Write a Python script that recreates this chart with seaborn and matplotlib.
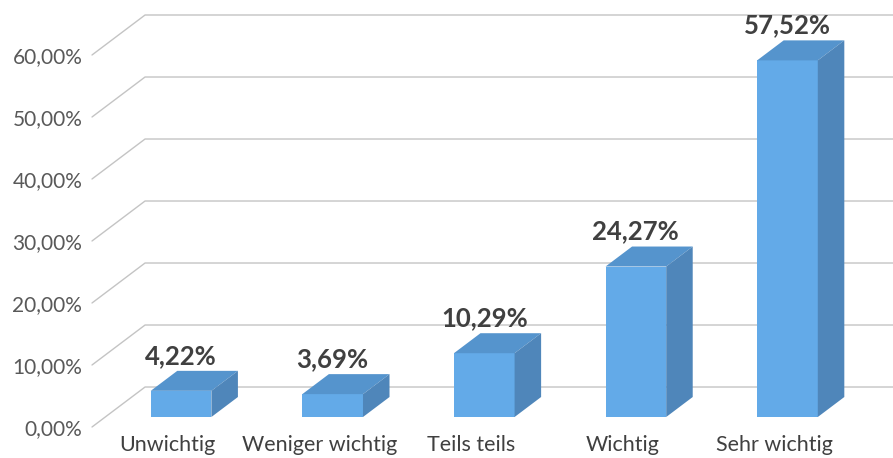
import matplotlib
matplotlib.use("Agg")
import matplotlib.pyplot as plt
from matplotlib.patches import Polygon
import pandas as pd
import seaborn as sns

# Chart data
categories = ["Unwichtig", "Weniger wichtig", "Teils teils", "Wichtig", "Sehr wichtig"]
values = [4.22, 3.69, 10.29, 24.27, 57.52]
y_ticks = [0, 10, 20, 30, 40, 50, 60]
y_tick_labels = ["0,00%", "10,00%", "20,00%", "30,00%", "40,00%", "50,00%", "60,00%"]
value_labels = ["4,22%", "3,69%", "10,29%", "24,27%", "57,52%"]

# Colours of the pseudo 3D bars
FRONT = "#63AAE8"
TOP = "#5594CD"
SIDE = "#4F86BA"
GRID = "#C4C4C4"

# Oblique projection: full floor depth in data units (x, y)
DEPTH_X = 0.35
DEPTH_Y = 6.45


def main():
	sns.set_theme(style="white")
	plt.rcParams["font.family"] = ["Lato", "DejaVu Sans"]

	fig = plt.figure(figsize=(8.93, 4.58), dpi=100)
	ax = fig.add_axes([92 / 893, 31 / 458, 758 / 893, 412 / 458])

	df = pd.DataFrame({"category": categories, "value": values})
	sns.barplot(data=df, x="category", y="value", color=FRONT, saturation=1,
		width=0.4, ax=ax, zorder=2, linewidth=0)

	ax.set_xlim(-0.5, len(categories) - 0.5)
	ax.set_ylim(0, y_ticks[-1] + DEPTH_Y)

	# Back wall gridlines with the slanted side-wall segment
	x_left, x_right = ax.get_xlim()
	for v in y_ticks:
		ax.plot([x_left, x_left + DEPTH_X, x_right + DEPTH_X + 1],
			[v, v + DEPTH_Y, v + DEPTH_Y],
			color=GRID, linewidth=1, zorder=0.5, clip_on=False)

	# Move bars to the middle of the floor depth and add top and side faces
	fx, fy = DEPTH_X * 0.25, DEPTH_Y * 0.25
	bx, by = DEPTH_X * 0.5, DEPTH_Y * 0.5
	for patch, label in zip(ax.patches, value_labels):
		patch.set_x(patch.get_x() + fx)
		patch.set_y(patch.get_y() + fy)
		x0, y0 = patch.get_x(), patch.get_y()
		w, h = patch.get_width(), patch.get_height()
		y1 = y0 + h
		top = Polygon([(x0, y1), (x0 + w, y1), (x0 + w + bx, y1 + by), (x0 + bx, y1 + by)],
			closed=True, facecolor=TOP, edgecolor="none", zorder=2, clip_on=False)
		side = Polygon([(x0 + w, y0), (x0 + w + bx, y0 + by), (x0 + w + bx, y1 + by), (x0 + w, y1)],
			closed=True, facecolor=SIDE, edgecolor="none", zorder=2, clip_on=False)
		ax.add_patch(top)
		ax.add_patch(side)
		ax.text(x0 + w / 2, y1 + by + 0.5, label, ha="center", va="bottom",
			fontsize=18.5, fontweight="bold", color="#404040", clip_on=False)

	ax.set_yticks(y_ticks)
	ax.set_yticklabels(y_tick_labels)
	ax.set_xlabel("")
	ax.set_ylabel("")
	ax.tick_params(axis="y", length=0, pad=7, labelsize=15, labelcolor="#595959")
	ax.tick_params(axis="x", length=0, pad=6, labelsize=15.5, labelcolor="#404040")
	for spine in ax.spines.values():
		spine.set_visible(False)
	ax.patch.set_alpha(0)

	fig.savefig("out.png", dpi=100)
	plt.close(fig)


if __name__ == "__main__":
	main()
